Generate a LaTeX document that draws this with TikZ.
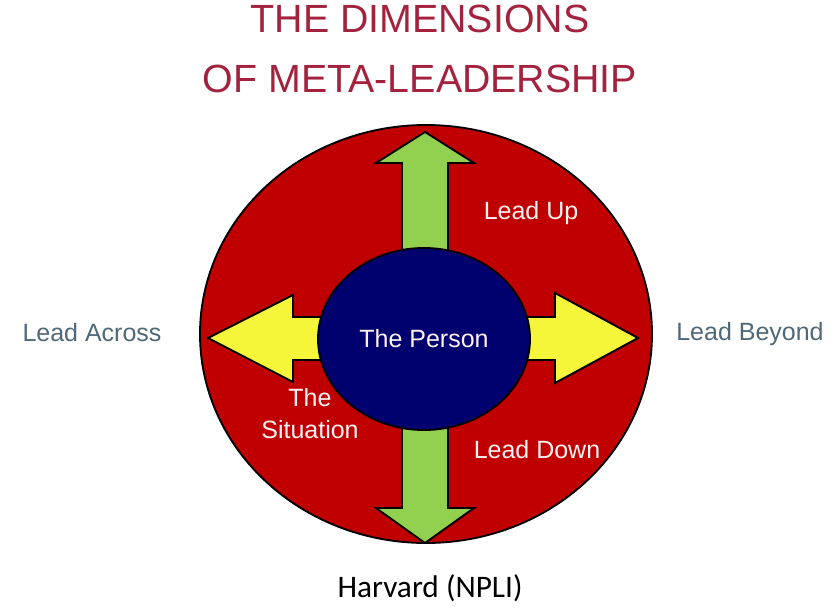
\documentclass[tikz,border=0pt]{standalone}
\usepackage{fontspec}
\setmainfont{Liberation Sans}
\newfontfamily\notefont{Carlito}
\usetikzlibrary{shapes.geometric}
\definecolor{titlered}{HTML}{A3233F}
\definecolor{ringred}{HTML}{C00000}
\definecolor{corenavy}{HTML}{00006E}
\definecolor{shaftgreen}{HTML}{92D050}
\definecolor{sideyellow}{HTML}{F5F53A}
\definecolor{slategray}{HTML}{4F6878}
\definecolor{labelwhite}{HTML}{FFF2F2}

\begin{document}
\begin{tikzpicture}[
  x=0.75pt, y=-0.75pt,
  every node/.style={inner sep=0pt},
  ring/.style={ellipse, draw=black, line width=1.4pt, fill=ringred,
               minimum width=339pt, minimum height=313.5pt},
  core/.style={ellipse, draw=black, line width=1.4pt, fill=corenavy,
               minimum width=159pt, minimum height=136.5pt,
               font=\fontsize{18.75}{22}\selectfont, text=labelwhite},
  vert/.style={draw=black, line width=1.4pt, fill=shaftgreen, line join=miter},
  horiz/.style={draw=black, line width=1.4pt, fill=sideyellow, line join=miter},
  inlabel/.style={font=\fontsize{18.75}{24}\selectfont, text=labelwhite, align=center},
  outlabel/.style={font=\fontsize{18.75}{22}\selectfont, text=slategray},
  heading/.style={font=\fontsize{29.5}{45}\selectfont, text=titlered, align=center},
]
  \useasboundingbox (0,0) rectangle (837,607);

  % title
  \node[heading] (title) at (420,49) {THE DIMENSIONS\\OF META-LEADERSHIP};

  % outer ring
  \node[ring] (situation) at (426,334) {};

  % four arrows, drawn under the centre
  \draw[vert] (402,300) -- (402,163) -- (376,163) -- (425,132) -- (474,163)
    -- (448,163) -- (448,300) -- cycle;
  \draw[vert] (402,380) -- (402,508) -- (376,508) -- (425,543) -- (474,508)
    -- (448,508) -- (448,380) -- cycle;
  \draw[horiz] (360,317) -- (293,317) -- (293,295) -- (208,338) -- (293,382)
    -- (293,360) -- (360,360) -- cycle;
  \draw[horiz] (490,317) -- (555,317) -- (555,293) -- (638,338) -- (555,383)
    -- (555,360) -- (490,360) -- cycle;

  % centre
  \node[core] (person) at (424,339) {The Person};

  % labels
  \node[inlabel] (up) at (531,213) {Lead Up};
  \node[inlabel] (down) at (537,450) {Lead Down};
  \node[inlabel] (sit) at (310,414) {The\\Situation};
  \node[outlabel] (across) at (92,333) {Lead Across};
  \node[outlabel] (beyond) at (750,334) {Lead Beyond};

  \node[font=\notefont\fontsize{23.5}{26}\selectfont] (source) at (430,588) {Harvard (NPLI)};
\end{tikzpicture}
\end{document}
